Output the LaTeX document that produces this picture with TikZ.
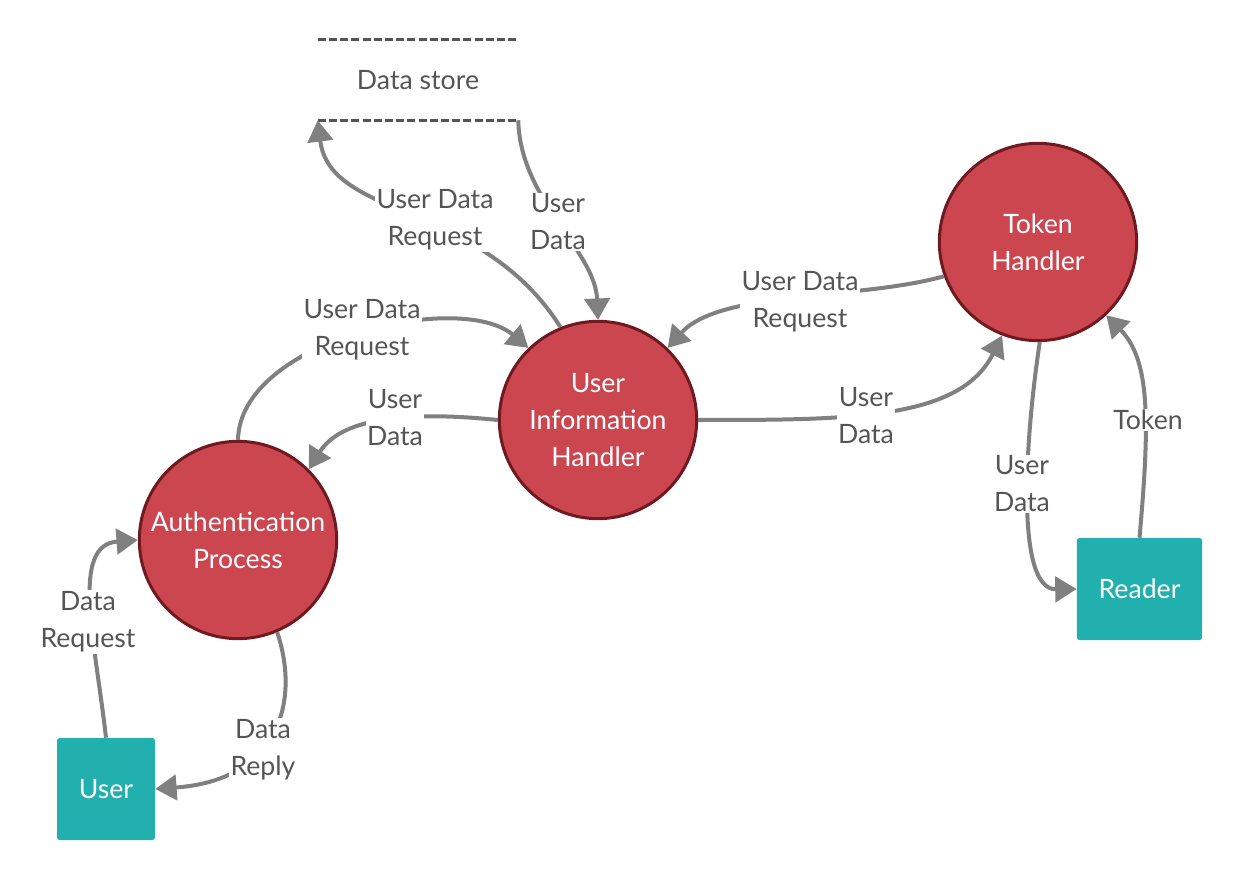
\documentclass[tikz,border=0pt]{standalone}
\usepackage{fontspec}
\setmainfont{Lato}
\usetikzlibrary{arrows.meta}
\definecolor{procfill}{RGB}{204,70,80}
\definecolor{procline}{RGB}{110,26,32}
\definecolor{teal}{RGB}{34,176,175}
\definecolor{linegray}{RGB}{128,128,128}
\definecolor{txtgray}{RGB}{85,85,85}
\definecolor{dashgray}{RGB}{85,85,85}
\begin{document}
\begin{tikzpicture}[x=0.75pt,y=-0.75pt,
  proc/.style={circle, fill=procfill, draw=procline, line width=2.25pt, minimum size=148pt, inner sep=0pt, align=center, text=white, font=\fontsize{20}{27.75}\selectfont},
  ext/.style={rectangle, rounded corners=2pt, fill=teal, text=white, inner sep=0pt, font=\fontsize{20}{27.75}\selectfont},
  conn/.style={draw=linegray, line width=3pt, -{Triangle[length=16pt,width=19pt]}},
  lbl/.style={fill=white, text=txtgray, align=center, inner sep=1pt, font=\fontsize{20}{27.75}\selectfont},
  dsline/.style={draw=dashgray, line width=2.6pt, dash pattern=on 6pt off 2.4pt}
]
\useasboundingbox (0,0) rectangle (1242,880);

% data store
\node[rectangle, minimum width=150pt, minimum height=60pt, inner sep=0pt, text=txtgray, font=\fontsize{20}{27.75}\selectfont] (ds) at (418,80) {Data store};
\draw[dsline] (ds.north west) -- (ds.north east);
\draw[dsline] (ds.south west) -- (ds.south east);

% processes
\node[proc] (uih) at (598,420) {User\\Information\\Handler};
\node[proc] (tok) at (1038,242) {Token\\Handler};
\node[proc] (auth) at (238,540) {Authentication\\Process};

% externals
\node[ext, minimum width=73.5pt, minimum height=76.5pt] (user) at (106,789) {User};
\node[ext, minimum width=94pt, minimum height=76.5pt] (reader) at (1139.5,589) {Reader};

% connectors
\draw[conn] (uih.112) .. controls (480,200) and (330,220) .. (ds.south west);
\draw[conn] (ds.south east) .. controls (520,200) and (595,250) .. (uih.90);
\draw[conn] (auth.90) .. controls (240,340) and (460,290) .. (uih.134);
\draw[conn] (uih.180) .. controls (400,410) and (340,420) .. (auth.45);
\draw[conn] (uih.0) .. controls (850,420) and (960,420) .. (tok.249);
\draw[conn] (tok.200) .. controls (860,300) and (720,290) .. (uih.46);
\draw[conn] (tok.271) .. controls (1025,440) and (1015,590) .. (reader.west);
\draw[conn] (reader.north) .. controls (1150,420) and (1150,360) .. (tok.313);
\draw[conn] (user.north) .. controls (95,640) and (70,545) .. (auth.180);
\draw[conn] (auth.293) .. controls (300,700) and (280,780) .. (user.east);

% labels
\node[lbl] (l1) at (435,220) {User Data\\Request};
\node[lbl] (l2) at (558,222) {User\\Data};
\node[lbl] (l3) at (362,330) {User Data\\Request};
\node[lbl] (l4) at (395,418) {User\\Data};
\node[lbl] (l5) at (866,416) {User\\Data};
\node[lbl] (l6) at (800,302) {User Data\\Request};
\node[lbl] (l7) at (1022,484) {User\\Data};
\node[lbl] (l8) at (1148,420) {Token};
\node[lbl] (l9) at (88,622) {Data\\Request};
\node[lbl] (l10) at (263,750) {Data\\Reply};
\end{tikzpicture}
\end{document}
